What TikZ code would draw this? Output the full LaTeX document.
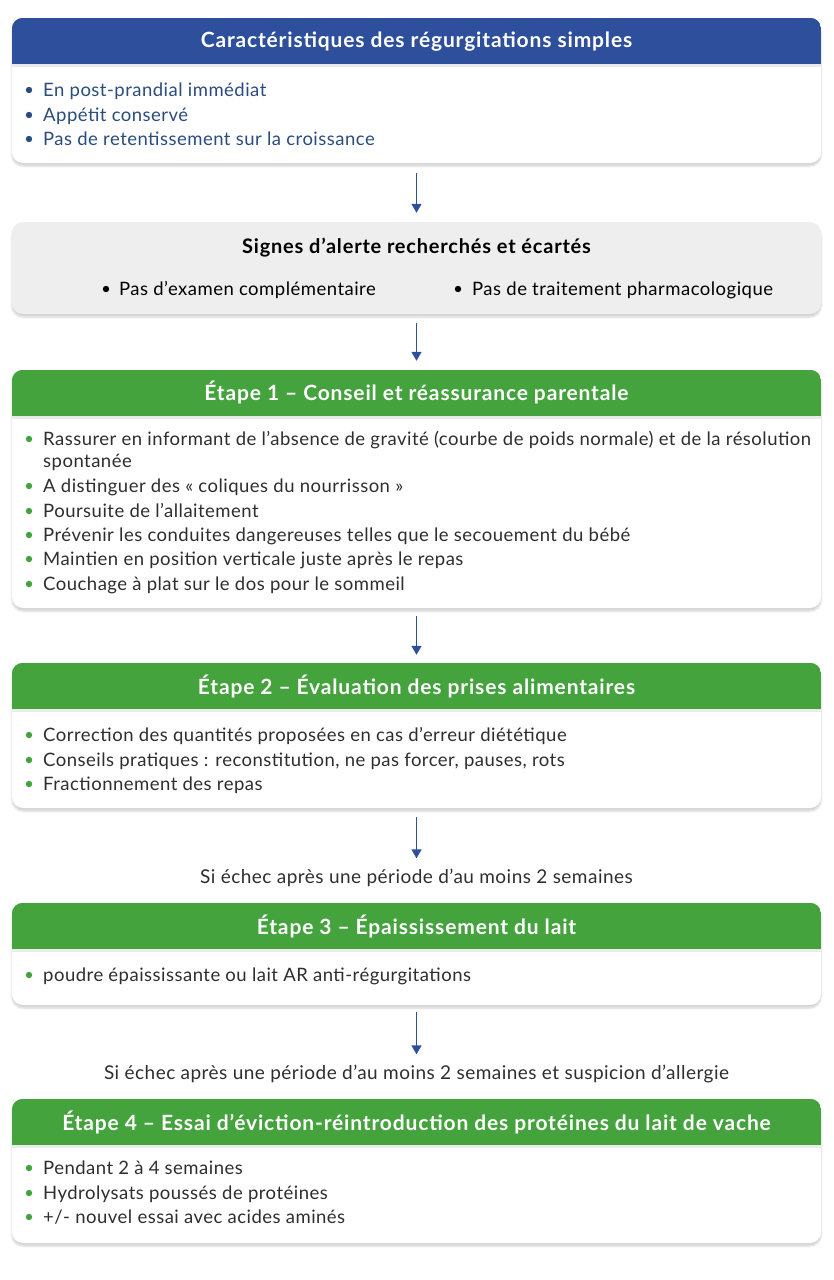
\documentclass[tikz,border=0pt]{standalone}
\usepackage{fontspec}
\setmainfont{Lato}
\newfontfamily\itemfont[LetterSpace=2.6]{Lato}
\newfontfamily\notefont[LetterSpace=2.5]{Lato}
\newfontfamily\hdrfont[LetterSpace=4]{Lato}
\usepackage{tikz}
\usetikzlibrary{positioning,calc,arrows.meta,shadows.blur}
\definecolor{hdrblue}{HTML}{2D4F9C}
\definecolor{hdrgreen}{HTML}{44A33D}
\definecolor{greybg}{HTML}{EEEEEE}
\definecolor{txtblue}{HTML}{2B4C7E}
\definecolor{txtgrey}{HTML}{2E2E2E}
\definecolor{arrowblue}{HTML}{2D4F9C}

\tikzset{
  bodybox/.style={draw=none, fill=white, rounded corners=11pt, minimum width=809pt,
    blur shadow={shadow blur steps=6, shadow xshift=0pt, shadow yshift=-3pt, shadow opacity=18}},
  greybox/.style={bodybox, fill=greybg},
  hdrtext/.style={text=white, font=\hdrfont\fontsize{21}{23}\selectfont\bfseries},
  item/.style={anchor=west, inner sep=0pt, text height=16pt, text depth=4pt,
    font=\itemfont\fontsize{18.5}{20}\selectfont, text=txtgrey},
  note/.style={inner sep=2pt, text height=13pt, text depth=4pt,
    font=\notefont\fontsize{19}{21}\selectfont, text=txtgrey},
  flow/.style={draw=arrowblue, line width=1.6pt, -{Triangle[width=10pt,length=9pt]}}
}
% header band clipped to the rounded box
\newcommand{\hdrband}[3]{%
  \begin{scope}
    \clip[rounded corners=11pt] (#1.north west) rectangle (#1.south east);
    \fill[#2] (#1.north west) rectangle ($(#1.north east)+(0,#3)$);
    \fill[black, opacity=0.08] ($(#1.north west)+(0,#3)$) rectangle ($(#1.north east)+(0,#3+3)$);
  \end{scope}}

\begin{document}
\begin{tikzpicture}[x=1pt, y=-1pt]
  \useasboundingbox (0,0) rectangle (834,1280);

  % Caracteristiques
  \node[bodybox, minimum height=145pt] (carac) at (416.5, 90.5) {};
  \hdrband{carac}{hdrblue}{46}
  \node[hdrtext] (caracT) at (416.5, 42) {Caractéristiques des régurgitations simples};
  \foreach \yy/\t in {90/{En post-prandial immédiat}, 115/{Appétit conservé},
                     139/{Pas de retentissement sur la croissance}} {
    \fill[txtblue] (29, \yy) circle (3.2pt);
    \node[item, text=txtblue] at (43, \yy) {\t};
  }

  % Signes d'alerte
  \node[greybox, minimum height=92pt] (alerte) at (416.5, 268) {};
  \node[font=\hdrfont\fontsize{20}{22}\selectfont\bfseries, text=black] (alerteT) at (416.5, 248)
    {Signes d’alerte recherchés et écartés};
  \fill[black] (106, 289) circle (3.2pt);
  \node[item, text=black] (examen) at (119, 289) {Pas d’examen complémentaire};
  \fill[black] (458, 289) circle (3.2pt);
  \node[item, text=black] (traitement) at (472, 289) {Pas de traitement pharmacologique};

  % Etape 1
  \node[bodybox, minimum height=238pt] (etape1) at (416.5, 489) {};
  \hdrband{etape1}{hdrgreen}{46}
  \node[hdrtext] (etape1T) at (416.5, 392) {Étape 1 – Conseil et réassurance parentale};
  \foreach \yy/\t in {439/{Rassurer en informant de l’absence de gravité (courbe de poids normale) et de la résolution},
                     486/{A distinguer des « coliques du nourrisson »},
                     511/{Poursuite de l’allaitement},
                     535/{Prévenir les conduites dangereuses telles que le secouement du bébé},
                     559/{Maintien en position verticale juste après le repas},
                     584/{Couchage à plat sur le dos pour le sommeil}} {
    \fill[hdrgreen] (29, \yy) circle (3.2pt);
    \node[item] at (43, \yy) {\t};
  }
  \node[item] (spont) at (43, 461) {spontanée};

  % Etape 2
  \node[bodybox, minimum height=145pt] (etape2) at (416.5, 735.5) {};
  \hdrband{etape2}{hdrgreen}{46}
  \node[hdrtext] (etape2T) at (416.5, 686) {Étape 2 – Évaluation des prises alimentaires};
  \foreach \yy/\t in {735/{Correction des quantités proposées en cas d’erreur diététique},
                     760/{Conseils pratiques : reconstitution, ne pas forcer, pauses, rots},
                     784/{Fractionnement des repas}} {
    \fill[hdrgreen] (29, \yy) circle (3.2pt);
    \node[item] at (43, \yy) {\t};
  }

  \node[note] (echec1) at (416.5, 879) {Si échec après une période d’au moins 2 semaines};

  % Etape 3
  \node[bodybox, minimum height=102pt] (etape3) at (416.5, 954) {};
  \hdrband{etape3}{hdrgreen}{46}
  \node[hdrtext] (etape3T) at (416.5, 926) {Étape 3 – Épaississement du lait};
  \fill[hdrgreen] (29, 975) circle (3.2pt);
  \node[item] (poudre) at (43, 975) {poudre épaississante ou lait AR anti-régurgitations};

  \node[note] (echec2) at (416.5, 1075)
    {Si échec après une période d’au moins 2 semaines et suspicion d’allergie};

  % Etape 4
  \node[bodybox, minimum height=144pt] (etape4) at (416.5, 1171) {};
  \hdrband{etape4}{hdrgreen}{46}
  \node[hdrtext] (etape4T) at (416.5, 1122)
    {Étape 4 – Essai d’éviction-réintroduction des protéines du lait de vache};
  \foreach \yy/\t in {1168/{Pendant 2 à 4 semaines},
                      1193/{Hydrolysats poussés de protéines},
                      1217/{+/- nouvel essai avec acides aminés}} {
    \fill[hdrgreen] (29, \yy) circle (3.2pt);
    \node[item] at (43, \yy) {\t};
  }

  % Arrows
  \draw[flow, shorten <=10pt, shorten >=9pt] (carac) -- (alerte);
  \draw[flow, shorten <=9pt, shorten >=9pt] (alerte) -- (etape1);
  \draw[flow, shorten <=8pt, shorten >=8pt] (etape1) -- (etape2);
  \draw[flow, shorten <=9pt, shorten >=10pt] (etape2) -- (echec1);
  \draw[flow, shorten <=7pt, shorten >=10pt] (etape3) -- (echec2);
\end{tikzpicture}
\end{document}
